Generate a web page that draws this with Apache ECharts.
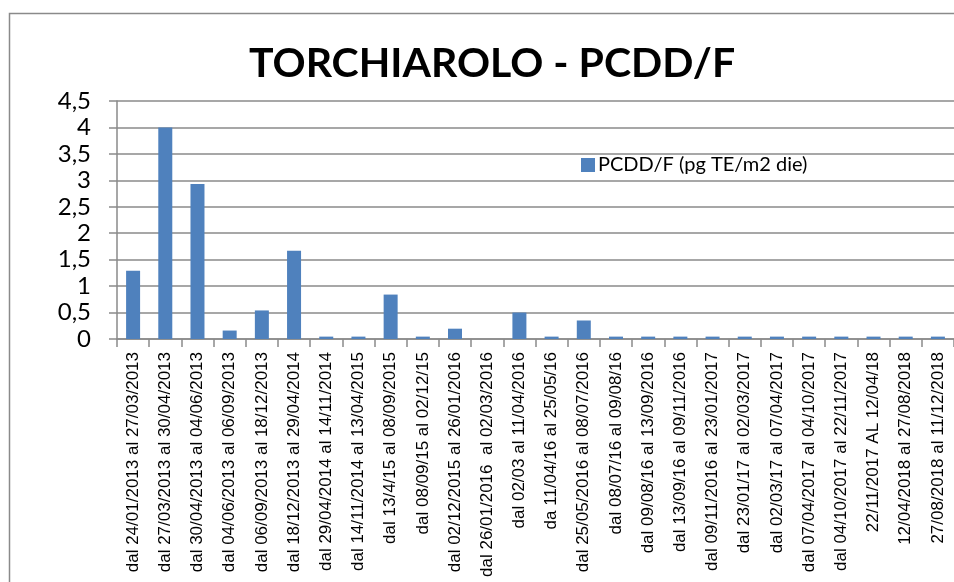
<!DOCTYPE html>
<html>
<head>
<meta charset="utf-8">
<script src="https://cdn.jsdelivr.net/npm/echarts@6/dist/echarts.min.js"></script>
<style>
  html, body { margin: 0; padding: 0; background: #fff; }
  #box { width: 954px; height: 582px; }
</style>
</head>
<body>
<div id="box"></div>
<script>
// periodi di campionamento
const periodi = [
  'dal 24/01/2013 al 27/03/2013',
  'dal 27/03/2013 al 30/04/2013',
  'dal 30/04/2013 al 04/06/2013',
  'dal 04/06/2013 al 06/09/2013',
  'dal 06/09/2013 al 18/12/2013',
  'dal 18/12/2013 al 29/04/2014',
  'dal 29/04/2014 al 14/11/2014',
  'dal 14/11/2014 al 13/04/2015',
  'dal 13/4/15 al 08/09/2015',
  'dal 08/09/15 al 02/12/15',
  'dal 02/12/2015 al 26/01/2016',
  'dal 26/01/2016  al 02/03/2016',
  'dal 02/03 al 11/04/2016',
  'da 11/04/16 al 25/05/16',
  'dal 25/05/2016 al 08/07/2016',
  'dal 08/07/16 al 09/08/16',
  'dal 09/08/16 al 13/09/2016',
  'dal 13/09/16 al 09/11/2016',
  'dal 09/11/2016 al 23/01/2017',
  'dal 23/01/17 al 02/03/2017',
  'dal 02/03/17 al 07/04/2017',
  'dal 07/04/2017 al 04/10/2017',
  'dal 04/10/2017 al 22/11/2017',
  '22/11/2017 AL 12/04/18',
  '12/04/2018 al 27/08/2018',
  '27/08/2018 al 11/12/2018'
];

// PCDD/F (pg TE/m2 die)
const pcddf = [
  1.29, 4.0, 2.93, 0.16, 0.54, 1.67, 0.045, 0.045, 0.84, 0.045,
  0.195, 0, 0.5, 0.045, 0.35, 0.045, 0.045, 0.045, 0.045, 0.045,
  0.045, 0.045, 0.045, 0.045, 0.045, 0.045
];

const yTicks = [0, 0.5, 1, 1.5, 2, 2.5, 3, 3.5, 4, 4.5];

const myChart = echarts.init(document.getElementById('box'));

const option = {
  animation: false,
  // cornice del grafico (tagliata a destra e in basso come nell'originale)
  graphic: [{
    type: 'rect',
    shape: { x: 9.5, y: 13.5, width: 1200, height: 1200 },
    style: { fill: 'none', stroke: '#8a8a8a', lineWidth: 1.5 },
    silent: true
  }],
  title: {
    text: 'TORCHIAROLO - PCDD/F',
    left: 487,
    textAlign: 'center',
    top: 38,
    textStyle: {
      fontFamily: 'Lato',
      fontWeight: 'bold',
      fontSize: 41,
      color: '#000'
    }
  },
  legend: {
    left: 576,
    top: 150,
    itemWidth: 14,
    itemHeight: 14,
    itemGap: 6,
    icon: 'rect',
    textStyle: { fontFamily: 'Lato', fontSize: 20, color: '#000', padding: [0, 0, 0, -2] },
    data: ['PCDD/F (pg TE/m2 die)']
  },
  grid: {
    left: 117,
    top: 101,
    width: 842,
    height: 238,
    containLabel: false
  },
  xAxis: {
    type: 'category',
    data: periodi,
    axisLine: { lineStyle: { color: '#8a8a8a', width: 1.5 } },
    axisTick: { show: true, length: 8, lineStyle: { color: '#8a8a8a', width: 1.5 } },
    axisLabel: {
      interval: 0,
      rotate: 90,
      margin: 13,
      fontFamily: 'Liberation Sans',
      fontSize: 17,
      color: '#000'
    }
  },
  yAxis: {
    type: 'value',
    min: 0,
    max: 4.5,
    interval: 0.5,
    axisLine: { show: true, lineStyle: { color: '#8a8a8a', width: 1.5 } },
    axisTick: { show: true, length: 8, lineStyle: { color: '#8a8a8a', width: 1.5 } },
    splitLine: { show: true, lineStyle: { color: '#8a8a8a', width: 1.5 } },
    axisLabel: {
      margin: 26,
      fontFamily: 'Lato',
      fontSize: 24,
      color: '#000',
      formatter: function (v) {
        return yTicks.indexOf(v) >= 0 ? String(v).replace('.', ',') : '';
      }
    }
  },
  series: [{
    name: 'PCDD/F (pg TE/m2 die)',
    type: 'bar',
    data: pcddf,
    barWidth: 14,
    itemStyle: { color: '#4F81BD' }
  }]
};

myChart.setOption(option);
</script>
</body>
</html>
